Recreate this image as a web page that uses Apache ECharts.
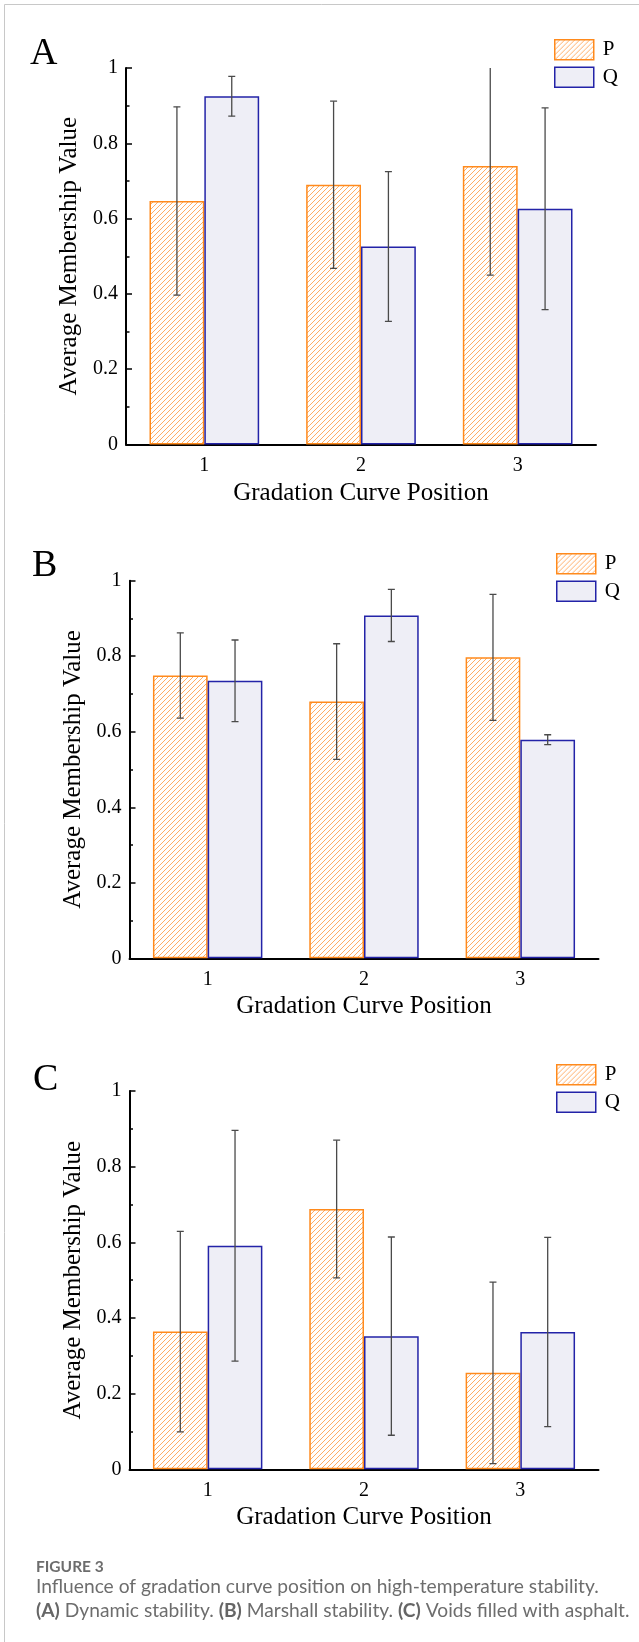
<!DOCTYPE html>
<html>
<head>
<meta charset="utf-8">
<script src="https://cdn.jsdelivr.net/npm/echarts@6/dist/echarts.min.js"></script>
<style>
html,body{margin:0;padding:0;background:#fff;}
#chart{width:639px;height:1642px;}
</style>
</head>
<body>
<div id="chart"></div>
<script>
// ---------- data ----------
const categories = ['1', '2', '3'];
const panelLabels = ['A', 'B', 'C'];

// Panel A: Dynamic stability
const A_P = [0.647, 0.690, 0.740];
const A_P_err = [0.250, 0.222, 0.290];
const A_Q = [0.925, 0.526, 0.626];
const A_Q_err = [0.053, 0.199, 0.268];

// Panel B: Marshall stability
const B_P = [0.749, 0.680, 0.797];
const B_P_err = [0.113, 0.153, 0.167];
const B_Q = [0.735, 0.908, 0.579];
const B_Q_err = [0.108, 0.069, 0.013];

// Panel C: Voids filled with asphalt
const C_P = [0.364, 0.688, 0.255];
const C_P_err = [0.265, 0.182, 0.240];
const C_Q = [0.591, 0.352, 0.363];
const C_Q_err = [0.305, 0.262, 0.250];

const seriesNames = ['P', 'Q'];
const xAxisTitle = 'Gradation Curve Position';
const yAxisTitle = 'Average Membership Value';

// ---------- styles ----------
const SERIF = "'Liberation Serif', 'Times New Roman', serif";
const P_BORDER = '#FF8A1C';
const Q_BORDER = '#2323A8';
const Q_FILL = '#EEEEF6';
const ERR_COLOR = '#4a4a4a';

function hatchPattern() {
  const s = 5;
  const c = document.createElement('canvas');
  c.width = s; c.height = s;
  const ctx = c.getContext('2d');
  ctx.fillStyle = '#ffffff';
  ctx.fillRect(0, 0, s, s);
  ctx.strokeStyle = 'rgba(255,145,50,0.75)';
  ctx.lineWidth = 1;
  ctx.beginPath();
  ctx.moveTo(-1, s + 1); ctx.lineTo(s + 1, -1);
  ctx.moveTo(-1, 1); ctx.lineTo(1, -1);
  ctx.moveTo(s - 1, s + 1); ctx.lineTo(s + 1, s - 1);
  ctx.stroke();
  return c;
}
const hatch = hatchPattern();

const panels = [
  { P: A_P, Pe: A_P_err, Q: A_Q, Qe: A_Q_err, grid: { left: 126, top: 68, width: 470, height: 376.5 }, legendLeft: 554, legendTop: 39, label: { x: 30, y: 54 } },
  { P: B_P, Pe: B_P_err, Q: B_Q, Qe: B_Q_err, grid: { left: 129.5, top: 580.7, width: 469, height: 377.6 }, legendLeft: 556, legendTop: 553, label: { x: 32, y: 566.5 } },
  { P: C_P, Pe: C_P_err, Q: C_Q, Qe: C_Q_err, grid: { left: 129.5, top: 1091, width: 469, height: 378.3 }, legendLeft: 556, legendTop: 1064, label: { x: 33, y: 1080.5 } }
];

function errorSeries(vals, errs, side, idx) {
  return {
    type: 'custom',
    xAxisIndex: idx, yAxisIndex: idx,
    clip: true,
    z: 5,
    silent: true,
    data: vals.map((v, i) => [i, v, errs[i]]),
    renderItem: function (params, api) {
      const ci = api.value(0), v = api.value(1), e = api.value(2);
      const band = api.size([1, 0])[0];
      const c = api.coord([ci, v]);
      const x = c[0] + side * band * 0.175;
      const yt = api.coord([ci, v + e])[1];
      const yb = api.coord([ci, v - e])[1];
      const hw = 3.5;
      const st = { stroke: ERR_COLOR, lineWidth: 1.3 };
      return {
        type: 'group',
        children: [
          { type: 'line', shape: { x1: x, y1: yt, x2: x, y2: yb }, style: st },
          { type: 'line', shape: { x1: x - hw, y1: yt, x2: x + hw, y2: yt }, style: st },
          { type: 'line', shape: { x1: x - hw, y1: yb, x2: x + hw, y2: yb }, style: st }
        ]
      };
    }
  };
}

const grids = [], xAxes = [], yAxes = [], series = [], legends = [], graphics = [];

panels.forEach((p, i) => {
  grids.push(p.grid);
  xAxes.push({
    type: 'category', gridIndex: i, data: categories,
    boundaryGap: true,
    axisLine: { lineStyle: { color: '#000', width: 2 } },
    axisTick: { alignWithLabel: true, length: 7, lineStyle: { color: '#000', width: 1.5 } },
    axisLabel: { color: '#000', fontFamily: SERIF, fontSize: 20, margin: 11 },
    name: xAxisTitle, nameLocation: 'middle', nameGap: 36,
    nameTextStyle: { color: '#000', fontFamily: SERIF, fontSize: 25 }
  });
  yAxes.push({
    type: 'value', gridIndex: i, min: 0, max: 1, interval: 0.2,
    axisLine: { show: true, lineStyle: { color: '#000', width: 2 } },
    axisTick: { show: true, inside: true, length: 6, lineStyle: { color: '#000', width: 1.5 } },
    minorTick: { show: true, splitNumber: 2, length: 3.5, lineStyle: { color: '#000', width: 1.5 } },
    splitLine: { show: false },
    axisLabel: { color: '#000', fontFamily: SERIF, fontSize: 20, margin: 8 },
    name: yAxisTitle, nameLocation: 'middle', nameGap: 31,
    nameTextStyle: { color: '#000', fontFamily: SERIF, fontSize: 25 }
  });
  series.push({
    name: seriesNames[0], type: 'bar', xAxisIndex: i, yAxisIndex: i,
    data: p.P, barGap: '0%', barCategoryGap: '30%',
    itemStyle: { color: { image: hatch, repeat: 'repeat' }, borderColor: P_BORDER, borderWidth: 1.5 }
  });
  series.push({
    name: seriesNames[1], type: 'bar', xAxisIndex: i, yAxisIndex: i,
    data: p.Q, barGap: '0%', barCategoryGap: '30%',
    itemStyle: { color: Q_FILL, borderColor: Q_BORDER, borderWidth: 1.5 }
  });
  series.push(errorSeries(p.P, p.Pe, -1, i));
  series.push(errorSeries(p.Q, p.Qe, 1, i));
  legends.push({
    orient: 'vertical', left: p.legendLeft, top: p.legendTop, padding: 0,
    itemWidth: 39, itemHeight: 20, itemGap: 6,
    icon: 'rect', data: seriesNames, selectedMode: false,
    itemStyle: { borderWidth: 1.5 },
    textStyle: { color: '#000', fontFamily: SERIF, fontSize: 21, padding: [0, 0, 0, 4] }
  });
  graphics.push({
    type: 'text', left: p.label.x, top: p.label.y - 19,
    style: { text: panelLabels[i], fontFamily: SERIF, fontSize: 38, fill: '#000' }
  });
});

// border
graphics.push({
  type: 'polyline',
  shape: { points: [[4.5, 1642], [4.5, 4.5], [639, 4.5]] },
  style: { stroke: '#c8c8c8', lineWidth: 1, fill: null }
});

// caption
const CAP_FONT = "Lato, 'Open Sans', sans-serif";
graphics.push({
  type: 'text', x: 36, y: 1567,
  style: { text: 'FIGURE 3', fontFamily: CAP_FONT, fontSize: 15.5, fontWeight: 'bold', fill: '#6d6d6d', verticalAlign: 'middle' }
});
graphics.push({
  type: 'text', x: 36, y: 1587,
  style: { text: 'Influence of gradation curve position on high-temperature stability.', fontFamily: CAP_FONT, fontSize: 19.2, fill: '#6d6d6d', verticalAlign: 'middle' }
});
graphics.push({
  type: 'text', x: 36, y: 1611,
  style: {
    text: '{b|(A)} Dynamic stability. {b|(B)} Marshall stability. {b|(C)} Voids filled with asphalt.',
    fontFamily: CAP_FONT, fontSize: 19.2, fill: '#6d6d6d', verticalAlign: 'middle',
    rich: { b: { fontFamily: CAP_FONT, fontSize: 19.2, fontWeight: 'bold', fill: '#666' } }
  }
});

const chart = echarts.init(document.getElementById('chart'), null, { renderer: 'canvas' });
chart.setOption({
  animation: false,
  backgroundColor: '#fff',
  grid: grids,
  xAxis: xAxes,
  yAxis: yAxes,
  legend: legends,
  series: series,
  graphic: graphics
});
</script>
</body>
</html>
